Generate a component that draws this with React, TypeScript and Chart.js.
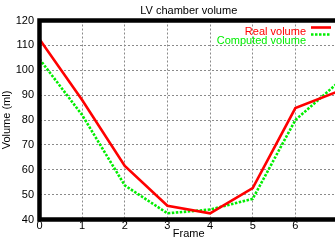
import React, { useEffect, useRef } from "react";
import { Chart, registerables } from "chart.js";

Chart.register(...registerables);

const frames = [0, 1, 2, 3, 4, 5, 6, 7];
const realVolume = [112.5, 88, 61.5, 45.5, 42.5, 52.6, 84.8, 91.5];
const computedVolume = [104.5, 82, 53.7, 42.5, 44, 48.3, 80, 95];
const seriesNames = ["Real volume", "Computed volume"];
const titleText = "LV chamber volume";
const xTitle = "Frame";
const yTitle = "Volume (ml)";

const FONT = "'Liberation Sans', Arial, sans-serif";

const framePlugin = {
  id: "thickFrame",
  afterDraw(chart: any) {
    const { ctx, chartArea } = chart;
    ctx.save();
    ctx.strokeStyle = "#000";
    ctx.lineWidth = 4.5;
    ctx.strokeRect(
      chartArea.left,
      chartArea.top,
      chartArea.right - chartArea.left,
      chartArea.bottom - chartArea.top
    );
    ctx.restore();
  },
};

const titlePlugin = {
  id: "gpTitle",
  afterDraw(chart: any) {
    const { ctx, chartArea } = chart;
    ctx.save();
    ctx.font = `11px ${FONT}`;
    ctx.fillStyle = "#000";
    ctx.textAlign = "center";
    ctx.textBaseline = "middle";
    ctx.fillText(titleText, (chartArea.left + chartArea.right) / 2, 10.5);
    ctx.restore();
  },
};

const legendPlugin = {
  id: "gpLegend",
  afterDraw(chart: any) {
    const { ctx } = chart;
    ctx.save();
    ctx.font = `11px ${FONT}`;
    ctx.textAlign = "right";
    ctx.textBaseline = "alphabetic";
    const textX = 306;
    const baselines = [34.5, 43.5];
    const sampleY = [27.5, 34.5];
    chart.data.datasets.forEach((ds: any, i: number) => {
      ctx.fillStyle = ds.borderColor;
      ctx.fillText(ds.label, textX, baselines[i]);
      ctx.strokeStyle = ds.borderColor;
      ctx.lineWidth = ds.borderWidth;
      ctx.setLineDash(ds.borderDash || []);
      ctx.beginPath();
      ctx.moveTo(311, sampleY[i]);
      ctx.lineTo(331, sampleY[i]);
      ctx.stroke();
    });
    ctx.restore();
  },
};

export default function App() {
  const ref = useRef<HTMLCanvasElement>(null);
  useEffect(() => {
    if (!ref.current) return;
    const chart = new Chart(ref.current, {
      type: "line",
      data: {
        datasets: [
          {
            label: seriesNames[0],
            data: frames.map((f, i) => ({ x: f, y: realVolume[i] })),
            borderColor: "#ff0000",
            borderWidth: 2.6,
            pointRadius: 0,
            tension: 0,
            fill: false,
          },
          {
            label: seriesNames[1],
            data: frames.map((f, i) => ({ x: f, y: computedVolume[i] })),
            borderColor: "#00ee00",
            borderWidth: 2.6,
            borderDash: [2.5, 1.5],
            pointRadius: 0,
            tension: 0,
            fill: false,
          },
        ],
      },
      options: {
        responsive: false,
        animation: false,
        devicePixelRatio: 1,
        layout: { padding: { top: 20.5, left: 0, right: 7, bottom: 0 } },
        plugins: {
          legend: { display: false },
          tooltip: { enabled: false },
          title: { display: false },
        },
        scales: {
          x: {
            type: "linear",
            min: 0,
            max: 7,
            ticks: {
              stepSize: 1,
              color: "#000",
              padding: 0,
              font: { family: FONT, size: 11 },
            },
            grid: { color: "#8a8a8a", lineWidth: 1, drawTicks: false },
            border: { display: false, dash: [2, 2] },
            title: {
              display: true,
              text: xTitle,
              color: "#000",
              padding: 0,
              font: { family: FONT, size: 11 },
            },
            afterFit(scale: any) {
              scale.height = 21.5;
            },
          },
          y: {
            min: 40,
            max: 120,
            ticks: {
              stepSize: 10,
              color: "#000",
              padding: 5.5,
              font: { family: FONT, size: 11 },
            },
            grid: { color: "#8a8a8a", lineWidth: 1, drawTicks: false },
            border: { display: false, dash: [2, 2] },
            title: {
              display: true,
              text: yTitle,
              color: "#000",
              padding: 0,
              font: { family: FONT, size: 11 },
            },
            afterFit(scale: any) {
              scale.width = 39.5;
            },
          },
        },
      },
      plugins: [framePlugin, titlePlugin, legendPlugin],
    });
    return () => chart.destroy();
  }, []);
  return (
    <div
      style={{
        position: "fixed",
        left: 0,
        top: 0,
        width: 335,
        height: 241,
        overflow: "hidden",
        background: "#fff",
      }}
    >
      <canvas ref={ref} width={345} height={241} style={{ display: "block" }} />
    </div>
  );
}
